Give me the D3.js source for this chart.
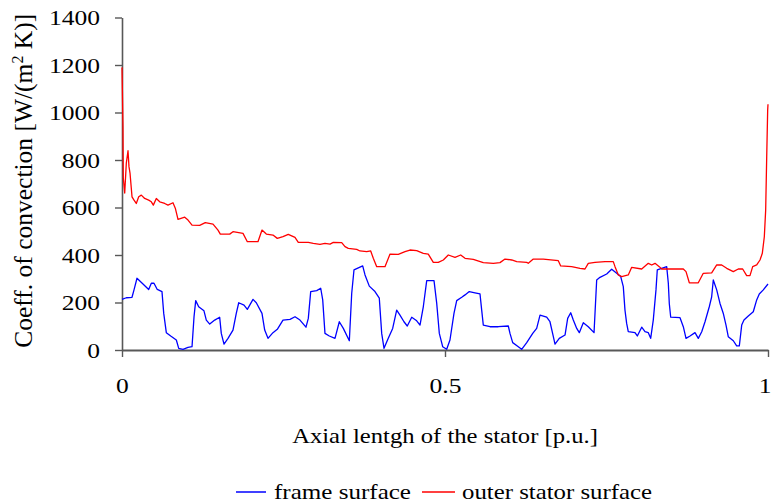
<!DOCTYPE html>
<html>
<head>
<meta charset="utf-8">
<script src="https://cdn.jsdelivr.net/npm/d3@7"></script>
<style>
  html, body { margin: 0; padding: 0; background: #fff; }
  svg { display: block; font-family: "Liberation Serif", "Times New Roman", serif; }
</style>
</head>
<body>
<svg id="chart" width="773" height="503"></svg>
<script>
// Axial position along the stator [p.u.] and convection coefficient [W/(m^2 K)]
const frameX = [0, 0.0067, 0.0155, 0.0186, 0.0232, 0.0325, 0.0413, 0.0454, 0.0495, 0.0546, 0.0619, 0.0646, 0.0686, 0.0754, 0.0841, 0.0878, 0.0944, 0.1022, 0.1084, 0.1115, 0.1141, 0.1187, 0.1269, 0.1305, 0.1358, 0.1435, 0.1512, 0.1537, 0.1579, 0.1641, 0.1718, 0.1769, 0.1807, 0.1889, 0.1940, 0.2028, 0.2079, 0.2167, 0.2209, 0.2260, 0.2337, 0.2404, 0.2492, 0.2601, 0.2678, 0.2755, 0.2848, 0.2884, 0.2921, 0.3014, 0.3076, 0.3107, 0.3142, 0.3209, 0.3297, 0.3364, 0.3426, 0.3519, 0.3556, 0.3591, 0.3726, 0.3762, 0.3828, 0.3916, 0.3983, 0.4020, 0.4056, 0.4122, 0.4190, 0.4252, 0.4303, 0.4365, 0.4416, 0.4485, 0.4562, 0.4613, 0.4664, 0.4717, 0.4830, 0.4872, 0.4912, 0.4964, 0.5026, 0.5077, 0.5139, 0.5181, 0.5259, 0.5310, 0.5376, 0.5464, 0.5542, 0.5568, 0.5593, 0.5697, 0.5825, 0.5980, 0.6006, 0.6048, 0.6119, 0.6187, 0.6265, 0.6358, 0.6419, 0.6471, 0.6574, 0.6625, 0.6677, 0.6703, 0.6769, 0.6858, 0.6899, 0.6946, 0.6986, 0.7039, 0.7079, 0.7141, 0.7218, 0.7307, 0.7348, 0.7399, 0.7503, 0.7580, 0.7658, 0.7720, 0.7760, 0.7786, 0.7812, 0.7837, 0.7941, 0.7977, 0.8045, 0.8096, 0.8147, 0.8184, 0.8224, 0.8266, 0.8286, 0.8354, 0.8432, 0.8457, 0.8472, 0.8494, 0.8638, 0.8689, 0.8731, 0.8793, 0.8870, 0.8921, 0.8974, 0.9025, 0.9091, 0.9128, 0.9153, 0.9206, 0.9257, 0.9308, 0.9350, 0.9385, 0.9463, 0.9515, 0.9556, 0.9593, 0.9628, 0.9695, 0.9772, 0.9825, 0.9865, 0.9927, 1.0];
const frameH = [213, 220, 222, 253, 302, 278, 255, 281, 281, 255, 246, 154, 73, 59, 42, 7, 3, 11, 14, 140, 208, 182, 165, 126, 109, 126, 138, 70, 25, 49, 84, 154, 199, 189, 171, 213, 199, 154, 84, 49, 73, 87, 126, 129, 140, 126, 96, 133, 246, 250, 260, 211, 70, 59, 49, 119, 91, 39, 239, 337, 354, 316, 269, 246, 218, 70, 7, 49, 91, 168, 147, 119, 101, 138, 123, 105, 182, 292, 292, 196, 70, 14, 3, 42, 154, 208, 222, 232, 246, 241, 236, 168, 105, 98, 98, 101, 70, 31, 17, 3, 31, 70, 91, 147, 138, 119, 56, 25, 49, 63, 133, 157, 126, 91, 73, 115, 98, 73, 295, 306, 320, 340, 323, 309, 267, 168, 112, 77, 73, 59, 96, 77, 73, 49, 126, 253, 337, 344, 351, 281, 196, 138, 136, 98, 49, 59, 73, 49, 77, 119, 182, 224, 295, 253, 196, 154, 105, 56, 39, 17, 17, 105, 126, 143, 161, 211, 236, 253, 278];

const statorX = [0, 0.0015, 0.002, 0.0042, 0.0067, 0.0093, 0.0108, 0.0124, 0.0155, 0.0186, 0.0221, 0.0259, 0.0299, 0.0351, 0.0413, 0.0454, 0.0485, 0.0531, 0.0584, 0.0661, 0.0712, 0.0789, 0.0825, 0.0867, 0.0971, 0.1022, 0.1084, 0.1203, 0.1289, 0.1409, 0.1486, 0.1522, 0.1667, 0.1718, 0.1873, 0.1940, 0.2105, 0.2167, 0.2234, 0.2337, 0.2404, 0.2492, 0.2574, 0.2678, 0.2729, 0.2884, 0.2961, 0.3065, 0.3142, 0.3220, 0.3271, 0.3401, 0.3452, 0.3503, 0.3633, 0.3684, 0.3788, 0.3850, 0.3890, 0.3943, 0.4071, 0.4149, 0.4277, 0.4381, 0.4458, 0.4562, 0.4664, 0.4741, 0.4819, 0.4896, 0.4974, 0.5051, 0.5155, 0.5243, 0.5310, 0.5438, 0.5593, 0.5748, 0.5851, 0.5929, 0.6033, 0.6110, 0.6265, 0.6289, 0.6367, 0.6522, 0.6754, 0.6791, 0.6961, 0.7090, 0.7167, 0.7218, 0.7322, 0.7477, 0.7605, 0.7632, 0.7683, 0.7735, 0.7837, 0.7890, 0.8045, 0.8147, 0.8200, 0.8251, 0.8317, 0.8354, 0.8689, 0.8731, 0.8782, 0.8921, 0.8998, 0.9128, 0.9206, 0.9283, 0.9361, 0.9463, 0.9540, 0.9608, 0.9670, 0.9721, 0.9763, 0.9825, 0.9876, 0.9912, 0.9943, 0.9964, 0.9980, 0.9995, 1.0];
const statorH = [1190, 940, 724, 661, 787, 839, 772, 745, 645, 631, 617, 645, 652, 638, 631, 624, 610, 638, 624, 617, 610, 620, 597, 550, 559, 547, 526, 525, 536, 530, 505, 488, 488, 498, 491, 456, 456, 505, 488, 484, 470, 477, 487, 474, 453, 453, 449, 445, 449, 446, 453, 452, 435, 428, 424, 417, 414, 417, 386, 351, 351, 404, 403, 414, 421, 418, 407, 404, 369, 369, 379, 400, 390, 400, 386, 382, 368, 365, 368, 383, 379, 372, 369, 365, 383, 383, 376, 354, 351, 344, 341, 365, 369, 372, 372, 351, 316, 309, 316, 348, 341, 365, 358, 365, 351, 341, 341, 330, 283, 283, 323, 325, 358, 358, 344, 330, 341, 341, 313, 313, 351, 358, 379, 407, 477, 589, 814, 1010, 1035];

const xTicks = [0, 0.5, 1];
const yTicks = [0, 200, 400, 600, 800, 1000, 1200, 1400];
const seriesNames = ["frame surface", "outer stator surface"];
const seriesColors = ["#0000ff", "#ff0000"];

const svg = d3.select("#chart");
const plotLeft = 122, plotRight = 768, plotTop = 17.5, plotBottom = 350;
const stretch = 1.16;   // the serif face is drawn slightly widened

const x = d3.scaleLinear().domain([0, 1]).range([plotLeft, plotRight]);
const y = d3.scaleLinear().domain([0, 1400]).range([plotBottom, plotTop]);

const axisColor = "#585858";

// Y axis
const gy = svg.append("g")
  .attr("transform", `translate(${plotLeft},0)`)
  .call(d3.axisLeft(y).tickValues(yTicks).tickFormat(d3.format("d")).tickSize(7).tickPadding(15).tickSizeOuter(0));
gy.select(".domain").attr("stroke", axisColor).attr("stroke-width", 1.6);
gy.selectAll(".tick line").attr("stroke", axisColor).attr("stroke-width", 1.4);
gy.selectAll(".tick text")
  .attr("font-size", 22).attr("fill", "#000")
  .attr("font-family", "Liberation Serif, serif")
  .attr("x", -22 / stretch)
  .attr("transform", `scale(${stretch},1)`);

// X axis
const gx = svg.append("g")
  .attr("transform", `translate(0,${plotBottom})`)
  .call(d3.axisBottom(x).tickValues(xTicks).tickFormat(d => String(d)).tickSize(7).tickPadding(20).tickSizeOuter(0));
gx.select(".domain").attr("stroke", axisColor).attr("stroke-width", 2);
gx.selectAll(".tick line").attr("stroke", axisColor).attr("stroke-width", 1.4);
gx.selectAll(".tick text")
  .attr("font-size", 22).attr("fill", "#000")
  .attr("font-family", "Liberation Serif, serif")
  .attr("x", d => (d === 1 ? -3.5 : 0) / stretch)   // keep the last label inside the frame
  .attr("transform", `scale(${stretch},1)`);

// Lines
const line = d3.line().x(d => x(d[0])).y(d => y(d[1]));
const series = [d3.zip(frameX, frameH), d3.zip(statorX, statorH)];
svg.append("g").selectAll("path")
  .data(series)
  .join("path")
  .attr("d", line)
  .attr("fill", "none")
  .attr("stroke", (d, i) => seriesColors[i])
  .attr("stroke-width", 1.3)
  .attr("stroke-linejoin", "round");

// Axis titles
const yTitle = svg.append("text")
  .attr("transform", `translate(32,${(plotTop + plotBottom) / 2 - 3}) rotate(-90)`)
  .attr("text-anchor", "middle")
  .attr("font-size", 25.5)
  .attr("fill", "#000");
yTitle.append("tspan").text("Coeff. of convection [W/(m");
yTitle.append("tspan").attr("dy", -9).attr("font-size", 16).text("2");
yTitle.append("tspan").attr("dy", 9).text(" K)]");

svg.append("text")
  .attr("transform", `translate(${(plotLeft + plotRight) / 2},443) scale(${stretch - 0.04},1)`)
  .attr("text-anchor", "middle")
  .attr("font-size", 22)
  .attr("fill", "#000")
  .text("Axial lentgh of the stator [p.u.]");

// Legend
const legendItems = [
  { x1: 236, x2: 266, tx: 274, w: 137 },
  { x1: 422, x2: 455, tx: 462, w: 190 }
];
const lg = svg.append("g");
legendItems.forEach((it, i) => {
  lg.append("line")
    .attr("x1", it.x1).attr("x2", it.x2).attr("y1", 492).attr("y2", 492)
    .attr("stroke", seriesColors[i]).attr("stroke-width", 1.5);
  lg.append("text")
    .attr("x", it.tx).attr("y", 499)
    .attr("font-size", 22)
    .attr("fill", "#000")
    .attr("textLength", it.w)
    .attr("lengthAdjust", "spacingAndGlyphs")
    .text(seriesNames[i]);
});
</script>
</body>
</html>
